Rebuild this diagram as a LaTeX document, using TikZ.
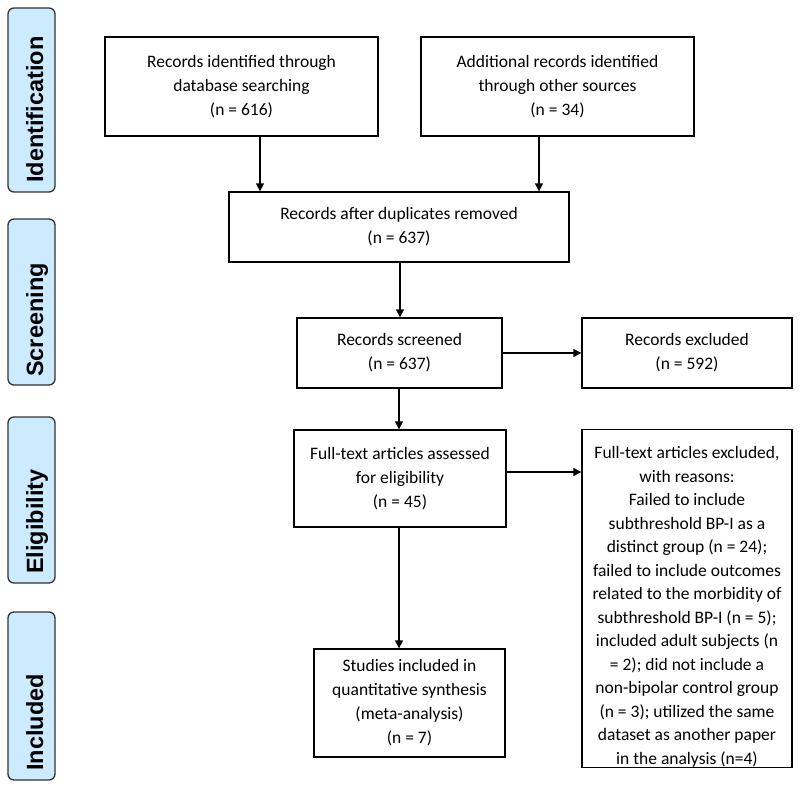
\documentclass[tikz,border=0pt]{standalone}
\usepackage{fontspec}
\setmainfont{Carlito}
\newfontfamily\sidefont{Liberation Sans}
\usetikzlibrary{arrows.meta}
\definecolor{sideblue}{RGB}{205,235,255}
\definecolor{sideedge}{RGB}{50,50,50}
\tikzset{
  flowbox/.style={draw=black, line width=1.3pt, align=center, inner sep=0pt,
    font=\fontsize{17.5}{24}\selectfont},
  sidebox/.style={draw=sideedge, fill=sideblue, line width=1.3pt, rounded corners=6pt},
  sidetext/.style={rotate=90, anchor=base west, inner sep=0pt,
    font=\sidefont\bfseries\fontsize{23.5}{26}\selectfont},
  arr/.style={line width=1.3pt, -{Triangle[length=8pt,width=8pt]}}
}
\begin{document}
\begin{tikzpicture}[x=1pt,y=-1pt]
\useasboundingbox (0,0) rectangle (800,803);
% side labels
\path[sidebox] (8,8) rectangle (55,192);
\node[sidetext] (lid) at (43,183) {Identification};
\path[sidebox] (8,219) rectangle (55,385);
\node[sidetext] (lsc) at (43,377) {Screening};
\path[sidebox] (8,417) rectangle (55,583);
\node[sidetext] (lel) at (43,574) {Eligibility};
\path[sidebox] (8,612) rectangle (55,780);
\node[sidetext] (lin) at (43,771) {Included};
% boxes
\node[flowbox, minimum width=273pt, minimum height=99pt] (b1) at (241.5,86.5)
  {Records identified through\\database searching\\(n = 616)};
\node[flowbox, minimum width=273pt, minimum height=99pt] (b2) at (557.5,86.5)
  {Additional records identified\\through other sources\\(n = 34)};
\node[flowbox, minimum width=340pt, minimum height=70pt] (b3) at (399,227)
  {Records after duplicates removed\\(n = 637)};
\node[flowbox, minimum width=205pt, minimum height=70pt] (b4) at (399.5,353)
  {Records screened\\(n = 637)};
\node[flowbox, minimum width=210pt, minimum height=70pt] (b5) at (687,353)
  {Records excluded\\(n = 592)};
\node[flowbox, minimum width=212pt, minimum height=97pt] (b6) at (400,478.5)
  {Full-text articles assessed\\for eligibility\\(n = 45)};
\node[flowbox, minimum width=191pt, minimum height=108pt] (b7) at (409.5,703)
  {Studies included in\\quantitative synthesis\\(meta-analysis)\\(n = 7)};
\node[flowbox, minimum width=210pt, minimum height=337pt, font=\fontsize{17.5}{23.5}\selectfont] (b8) at (687,598.5)
  {\rule{0pt}{29pt}Full-text articles excluded,\\with reasons:\\Failed to include\\subthreshold BP-I as a\\distinct group (n = 24);\\failed to include outcomes\\related to the morbidity of\\subthreshold BP-I (n = 5);\\included adult subjects (n\\= 2); did not include a\\non-bipolar control group\\(n = 3); utilized the same\\dataset as another paper\\in the analysis (n=4)};
% connectors
\draw[arr] (b1.south -| 260,0) -- (b3.north -| 260,0);
\draw[arr] (b2.south -| 539,0) -- (b3.north -| 539,0);
\draw[arr] (b3.south -| 400,0) -- (b4.north -| 400,0);
\draw[arr] (b4.east) -- (b5.west);
\draw[arr] (b4.south -| 399,0) -- (b6.north -| 399,0);
\draw[arr] (b6.east |- 0,472) -- (b8.west |- 0,472);
\draw[arr] (b6.south -| 399,0) -- (b7.north -| 399,0);
\end{tikzpicture}
\end{document}
